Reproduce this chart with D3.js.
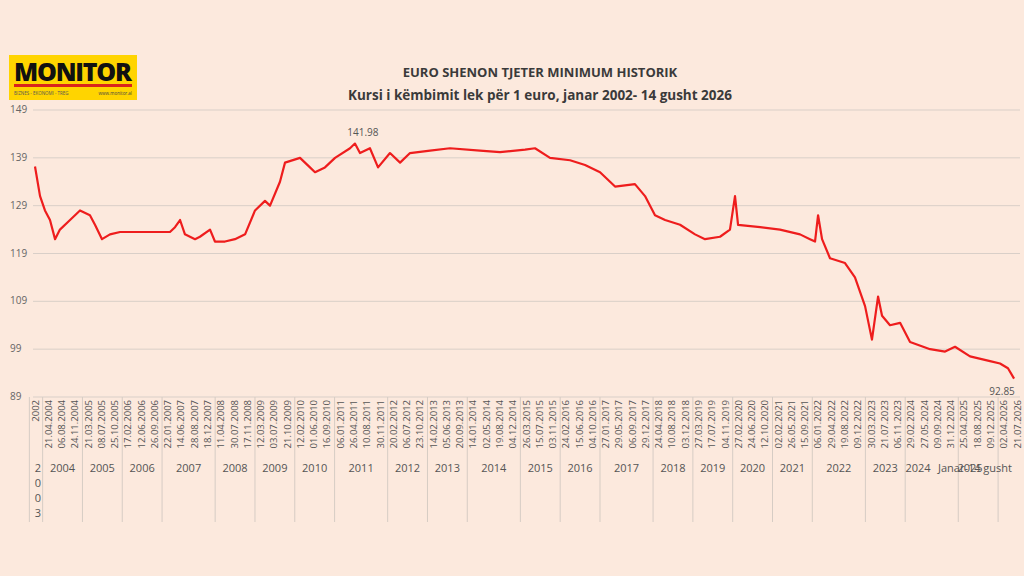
<!DOCTYPE html>
<html>
<head>
<meta charset="utf-8">
<script src="https://d3js.org/d3.v7.min.js"></script>
<style>
  body { margin: 0; background: #fce9dd; }
  text { font-family: "Open Sans", "DejaVu Sans", sans-serif; }
</style>
</head>
<body>
<script>
// tick labels of the category axis
var dateLabels = ["2002","21.04.2004","06.08.2004","24.11.2004","21.03.2005","08.07.2005","25.10.2005",
  "17.02.2006","12.06.2006","26.09.2006","22.01.2007","14.06.2007","28.08.2007","18.12.2007",
  "11.04.2008","30.07.2008","17.11.2008","12.03.2009","03.07.2009","21.10.2009","12.02.2010",
  "01.06.2010","16.09.2010","06.01.2011","26.04.2011","10.08.2011","30.11.2011","20.02.2012",
  "06.07.2012","23.10.2012","14.02.2013","05.06.2013","20.09.2013","14.01.2014","02.05.2014",
  "19.08.2014","04.12.2014","26.03.2015","15.07.2015","03.11.2015","24.02.2016","15.06.2016",
  "04.10.2016","27.01.2017","29.05.2017","06.09.2017","29.12.2017","24.04.2018","10.08.2018",
  "03.12.2018","27.03.2019","17.07.2019","04.11.2019","27.02.2020","24.06.2020","12.10.2020",
  "02.02.2021","26.05.2021","15.09.2021","06.01.2022","29.04.2022","19.08.2022","09.12.2022",
  "30.03.2023","21.07.2023","06.11.2023","29.02.2024","27.05.2024","09.09.2024","31.12.2024",
  "25.04.2025","18.08.2025","09.12.2025","02.04.2026","21.07.2026"];

// year groups: label, first index, end index
var yearNames = ["2003","2004","2005","2006","2007","2008","2009","2010","2011","2012","2013","2014",
  "2015","2016","2017","2018","2019","2020","2021","2022","2023","2024","2025","Janar-14 gusht"];
var yearStarts = [0,1,4,7,10,14,17,20,23,27,30,33,37,40,43,47,50,53,56,59,63,66,70,73];
var yearEnds   = [1,4,7,10,14,17,20,23,27,30,33,37,40,43,47,50,53,56,59,63,66,70,73,75];

// series: position along the label axis (label index) and rate (lek per euro)
var pos = [0,0.38,0.75,1.13,1.51,1.88,2.64,3.39,4.14,4.52,5.05,5.65,6.41,10.17,10.55,10.93,11.30,
  12.06,12.43,13.19,13.56,14.32,15.07,15.83,16.58,17.33,17.71,18.46,18.84,19.97,20.72,21.10,21.85,
  22.61,23.74,24.11,24.49,25.24,25.85,26.75,27.51,28.26,29.77,31.27,33.53,35.04,36.93,37.68,38.81,
  40.32,41.45,42.58,43.71,45.21,45.97,46.72,47.48,48.61,49.74,50.49,51.62,52.37,52.75,52.98,54.64,
  56.14,57.65,58.40,58.78,59.01,59.31,59.91,61.04,61.79,62.55,63.07,63.53,63.83,64.43,65.19,65.94,
  67.45,68.58,69.33,70.46,71.97,72.72,73.32,73.78];
var rate = [137.2,131,128,126,122,124,126,128,127,125,122,123,123.5,123.5,124.5,126,123,
  122,122.5,124,121.5,121.5,122,123,128,130,129,134,138,139,137,136,137,
  139,141,141.98,140,141,137,140,138,140,140.5,141,140.5,140.2,140.7,141,139,
  138.5,137.5,136,133,133.5,131,127,126,125,123,122,122.5,124,131,125,124.5,
  124,123,122,121.5,127,122,118,117,114,108,101,110,106,104,104.5,100.5,
  99,98.5,99.5,97.5,96.5,96,95,92.85];
var yTicks = [89,99,109,119,129,139,149];

var width = 1024, height = 576;
var svg = d3.select("body").append("svg").attr("width", width).attr("height", height);
svg.append("rect").attr("width", width).attr("height", height).attr("fill", "#fce9dd");

var x = d3.scaleLinear().domain([0, 74]).range([35, 1017]);
var y = d3.scaleLinear().domain([89, 149]).range([397, 110]);

// gridlines + y labels
svg.selectAll(".grid").data(yTicks).enter().append("line")
  .attr("x1", 33).attr("x2", 1020)
  .attr("y1", function(d){ return y(d); }).attr("y2", function(d){ return y(d); })
  .attr("stroke", "#d9cfc8").attr("stroke-width", 1);
svg.selectAll(".ylab").data(yTicks).enter().append("text")
  .attr("x", 10).attr("y", function(d){ return y(d) + 3; })
  .attr("font-size", 10).attr("fill", "#666").text(function(d){ return d; });

// rotated date labels
svg.selectAll(".dlab").data(dateLabels).enter().append("text")
  .attr("transform", function(d, i){ return "translate(" + (x(i) + 3.5) + ",400) rotate(-90)"; })
  .attr("text-anchor", "end").attr("font-size", 9.5).attr("fill", "#555")
  .text(function(d){ return d; });

// year group separators
var seps = yearStarts.concat([75]);
svg.selectAll(".sep").data(seps).enter().append("line")
  .attr("x1", function(d){ return x(d - 0.5) + 1; }).attr("x2", function(d){ return x(d - 0.5) + 1; })
  .attr("y1", 397).attr("y2", 522)
  .attr("stroke", "#d6ccc4");

// year labels (last three placed by hand like the original, which overlaps)
var fixedX = { "2024": 918, "2025": 970 };
yearNames.forEach(function(name, i) {
  var cx = (x(yearStarts[i] - 0.5) + x(yearEnds[i] - 0.5)) / 2 + 1;
  if (name === "2003") {
    name.split("").forEach(function(ch, k) {
      svg.append("text").attr("x", cx + 2).attr("y", 472 + k * 15)
        .attr("text-anchor", "middle").attr("font-size", 11).attr("fill", "#555").text(ch);
    });
  } else if (i === yearNames.length - 1) {
    svg.append("text").attr("x", 1012).attr("y", 472).attr("text-anchor", "end")
      .attr("font-size", 11).attr("fill", "#555").text(name);
  } else {
    svg.append("text").attr("x", fixedX[name] || cx).attr("y", 472).attr("text-anchor", "middle")
      .attr("font-size", 11).attr("fill", "#555").text(name);
  }
});

// the series line
var line = d3.line()
  .x(function(d, i){ return x(pos[i]); })
  .y(function(d){ return y(d); });
svg.append("path").datum(rate)
  .attr("d", line).attr("fill", "none")
  .attr("stroke", "#ee1d1d").attr("stroke-width", 2.2).attr("stroke-linejoin", "round");

// value annotations
var maxI = rate.indexOf(d3.max(rate));
svg.append("text").attr("x", x(pos[maxI]) + 8).attr("y", y(rate[maxI]) - 8)
  .attr("text-anchor", "middle").attr("font-size", 10).attr("fill", "#555").text(rate[maxI].toFixed(2));
var last = rate.length - 1;
svg.append("text").attr("x", x(pos[last]) - 12).attr("y", y(rate[last]) + 16)
  .attr("text-anchor", "middle").attr("font-size", 10).attr("fill", "#555").text(rate[last].toFixed(2));

// titles
svg.append("text").attr("x", 540).attr("y", 77).attr("text-anchor", "middle")
  .attr("font-size", 13).attr("font-weight", "bold").attr("fill", "#3a3a3a")
  .text("EURO SHENON TJETER MINIMUM HISTORIK");
svg.append("text").attr("x", 540).attr("y", 100).attr("text-anchor", "middle")
  .attr("font-size", 13.5).attr("font-weight", "bold").attr("fill", "#3a3a3a")
  .text("Kursi i këmbimit lek për 1 euro, janar 2002- 14 gusht 2026");

// logo
var logo = svg.append("g");
logo.append("rect").attr("x", 9).attr("y", 55).attr("width", 128).attr("height", 45).attr("fill", "#ffd400");
logo.append("text").attr("x", 73).attr("y", 81).attr("text-anchor", "middle")
  .attr("font-family", "Liberation Sans, Arial").attr("font-weight", "900")
  .attr("font-size", 25).attr("fill", "#111").attr("textLength", 118).text("MONITOR");
logo.append("rect").attr("x", 14).attr("y", 84).attr("width", 118).attr("height", 3).attr("fill", "#d9241c");
logo.append("text").attr("x", 14).attr("y", 95).attr("font-size", 4.5).attr("fill", "#555")
  .text("BIZNES - EKONOMI - TREG");
logo.append("text").attr("x", 132).attr("y", 95).attr("text-anchor", "end").attr("font-size", 4.5).attr("fill", "#444")
  .text("www.monitor.al");
</script>
</body>
</html>
